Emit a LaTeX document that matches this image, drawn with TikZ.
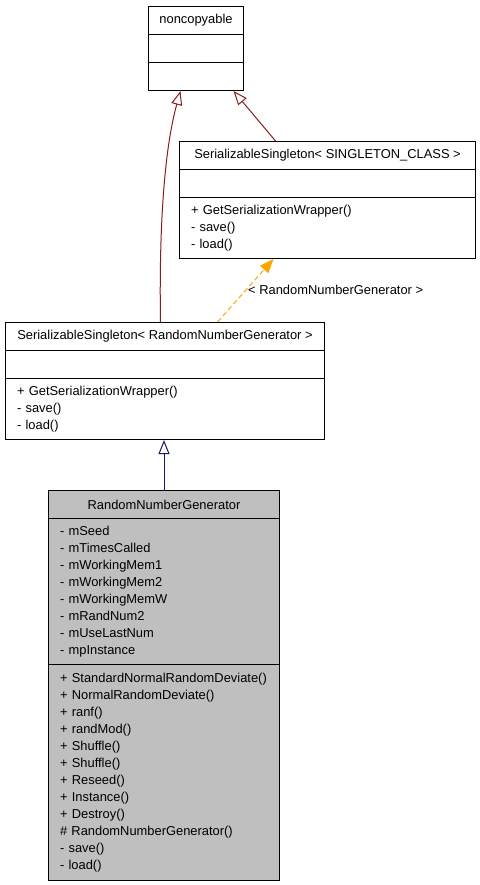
\documentclass[tikz,border=0pt]{standalone}
\usepackage{fontspec}
\setmainfont{Liberation Sans}
\usetikzlibrary{arrows.meta}
\definecolor{inhblue}{HTML}{191970}
\definecolor{inhred}{HTML}{8B1A1A}
\definecolor{tmplorange}{HTML}{FFA500}
\definecolor{classgray}{HTML}{BFBFBF}
\begin{document}
\begin{tikzpicture}[x=1pt,y=-1pt,
  every node/.style={font=\fontsize{12.9}{17}\selectfont},
  comp/.style={draw=black, line width=1pt, anchor=north west, inner sep=0pt, minimum width=#1},
  titlecomp/.style={comp=#1, minimum height=28pt, align=center},
  listcomp/.style 2 args={comp=#1, minimum height=#2, inner xsep=11.5pt, text width=#1-23pt, align=left},
  gen/.style={line width=1pt, -{Triangle[open, length=14pt, width=11pt, line width=1pt]}},
  tmpl/.style={line width=1pt, dashed, dash pattern=on 5pt off 3pt, -{Triangle[length=14pt, width=11pt]}}
]
\useasboundingbox (0,0) rectangle (479,885);

% noncopyable
\node[titlecomp=95pt] (nc1) at (148,6) {noncopyable};
\node[titlecomp=95pt] (nc2) at (148,34) {};
\node[titlecomp=95pt] (nc3) at (148,62) {};

% SerializableSingleton< SINGLETON_CLASS >
\node[titlecomp=296pt] (sc1) at (179,141) {SerializableSingleton< SINGLETON\_CLASS >};
\node[titlecomp=296pt] (sc2) at (179,169) {};
\node[listcomp={296pt}{61pt}] (sc3) at (179,197) {+ GetSerializationWrapper()\\- save()\\- load()};

% SerializableSingleton< RandomNumberGenerator >
\node[titlecomp=319pt] (sr1) at (5,322) {SerializableSingleton< RandomNumberGenerator >};
\node[titlecomp=319pt] (sr2) at (5,350) {};
\node[listcomp={319pt}{61pt}] (sr3) at (5,378) {+ GetSerializationWrapper()\\- save()\\- load()};

% RandomNumberGenerator
\node[titlecomp=231pt, fill=classgray] (rg1) at (48,490) {RandomNumberGenerator};
\node[listcomp={231pt}{146pt}, fill=classgray] (rg2) at (48,518) {- mSeed\\- mTimesCalled\\- mWorkingMem1\\- mWorkingMem2\\- mWorkingMemW\\- mRandNum2\\- mUseLastNum\\- mpInstance};
\node[listcomp={231pt}{216pt}, fill=classgray] (rg3) at (48,664) {+ StandardNormalRandomDeviate()\\+ NormalRandomDeviate()\\+ ranf()\\+ randMod()\\+ Shuffle()\\+ Shuffle()\\+ Reseed()\\+ Instance()\\+ Destroy()\\\# RandomNumberGenerator()\\- save()\\- load()};

% edges
\draw[gen, inhblue] (rg1.north) -- (rg1.north |- sr3.south);
\draw[gen, inhred] ([xshift=-4.5pt]sr1.north) .. controls (159,230) and (164,150) .. ([xshift=-15.5pt]nc3.south);
\draw[gen, inhred] ([xshift=-52pt]sc1.north) -- ([xshift=37.5pt]nc3.south);
\draw[tmpl, tmplorange] ([xshift=52.5pt]sr1.north) -- ([xshift=-54pt]sc3.south);
\node[anchor=west, inner sep=0pt] (lbl) at (248,290) {< RandomNumberGenerator >};
\end{tikzpicture}
\end{document}
